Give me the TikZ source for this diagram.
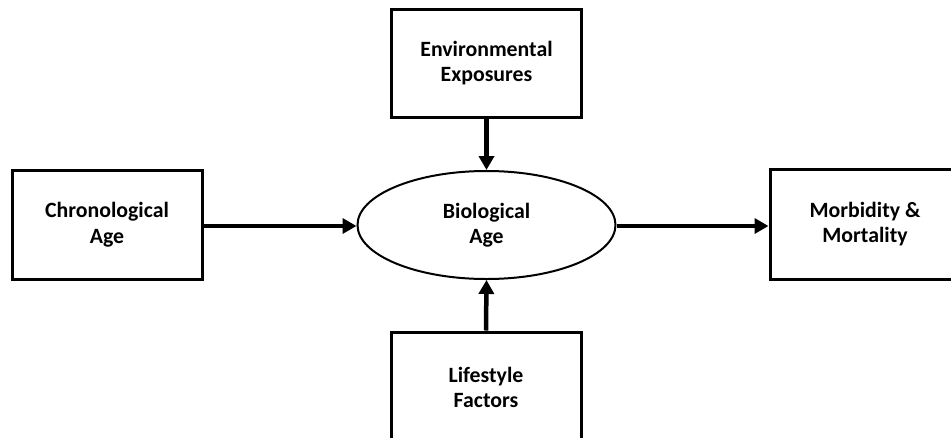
\documentclass[tikz,border=0pt]{standalone}
\usepackage{fontspec}
\setmainfont{Carlito}
\usetikzlibrary{shapes.geometric,arrows.meta}
\begin{document}
\begin{tikzpicture}[x=1pt,y=-1pt,
  txt/.style={font=\bfseries\fontsize{21.8}{25.5}\selectfont,align=center},
  boxstyle/.style={draw=black,line width=3pt,fill=white,rectangle,inner sep=0pt,txt},
  ellstyle/.style={draw=black,line width=2pt,ellipse,inner sep=0pt,txt},
  conn/.style={line width=4.5pt,-{Triangle[length=14pt,width=15pt]}}]
\useasboundingbox (0,0) rectangle (951,437);
\clip (0,0) rectangle (951,437);
\node[ellstyle,minimum width=258pt,minimum height=108pt] (bio) at (486.5,225) {Biological\\Age};
\node[boxstyle,minimum width=190pt,minimum height=108pt] (env) at (486.5,63) {Environmental\\Exposures};
\node[boxstyle,minimum width=190pt,minimum height=109pt] (chr) at (107,224.5) {Chronological\\Age};
\node[boxstyle,minimum width=190pt,minimum height=110pt] (mor) at (865,224) {Morbidity \&\\Mortality};
\node[boxstyle,minimum width=190pt,minimum height=130pt] (lif) at (486,397) {};
\node[txt] (liftext) at (486,387.5) {Lifestyle\\Factors};
\draw[conn] (chr.east |- 0,226) -- (bio.west |- 0,226);
\draw[conn] (bio.east |- 0,226) -- (mor.west |- 0,226);
\draw[conn] (env.south) -- (bio.north);
\draw[conn] (lif.north) -- (bio.south);
\end{tikzpicture}
\end{document}
